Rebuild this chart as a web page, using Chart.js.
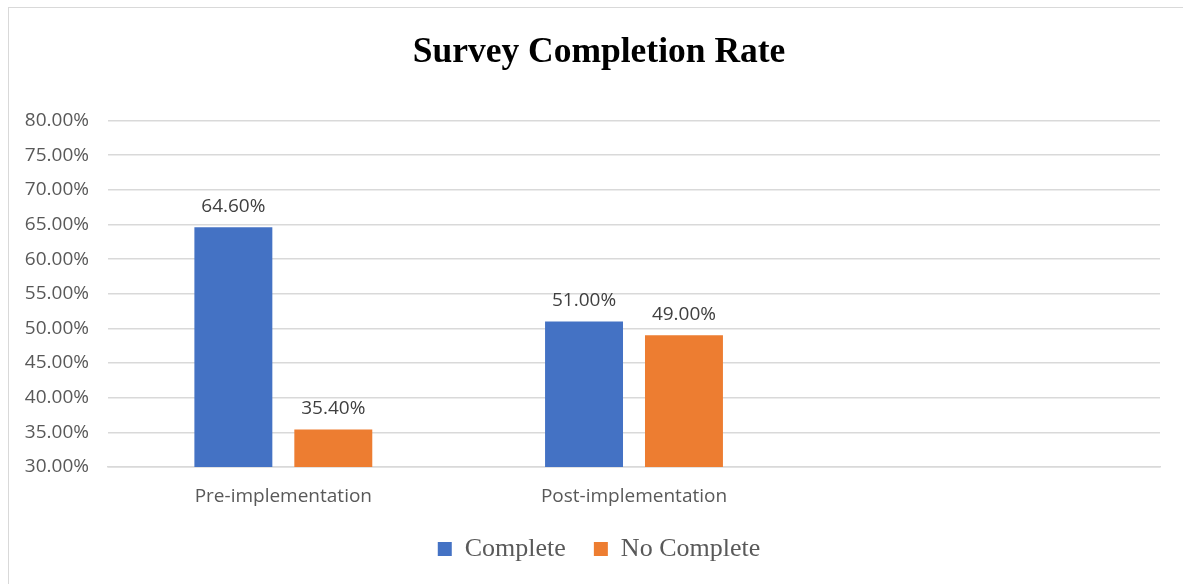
<!DOCTYPE html>
<html>
<head>
<meta charset="utf-8">
<title>Survey Completion Rate</title>
<script src="https://cdn.jsdelivr.net/npm/chart.js@4.4.1/dist/chart.umd.min.js"></script>
<style>
    html, body { margin: 0; padding: 0; background: #fff; overflow: hidden; }
    #frame {
        position: absolute; left: 8px; top: 7px;
        width: 1180px; height: 580px;
        border-left: 1px solid #d9d9d9; border-top: 1px solid #d9d9d9;
    }
    #wrap { position: absolute; left: 0; top: 0; width: 1180px; height: 576px; }
</style>
</head>
<body>
<div id="frame"><div id="wrap"><canvas id="completion-chart"></canvas></div></div>
<script>
// stages (third slot left empty like the source sheet)
var stages = ['Pre-implementation', 'Post-implementation', ''];
var completeRate = [64.6, 51.0, null];
var noCompleteRate = [35.4, 49.0, null];
var yTicks = { min: 30, max: 80, step: 5 };

var labelFont = "'Open Sans', sans-serif";
var serifFont = "'Liberation Serif', 'Times New Roman', serif";

// writes the value over each bar
var valueLabels = {
    id: 'valueLabels',
    afterDatasetsDraw: function (chart) {
        var ctx = chart.ctx;
        ctx.save();
        ctx.font = '19px ' + labelFont;
        ctx.fillStyle = '#404040';
        ctx.textAlign = 'center';
        ctx.textBaseline = 'middle';
        chart.data.datasets.forEach(function (ds, i) {
            chart.getDatasetMeta(i).data.forEach(function (bar, j) {
                if (ds.data[j] == null) return;
                ctx.fillText(ds.data[j].toFixed(2) + '%', bar.x, bar.y - 21);
            });
        });
        ctx.restore();
    }
};

new Chart(document.getElementById('completion-chart'), {
    type: 'bar',
    data: {
        labels: stages,
        datasets: [
            {
                label: 'Complete',
                data: completeRate,
                backgroundColor: '#4472C4'
            },
            {
                label: 'No Complete',
                data: noCompleteRate,
                backgroundColor: '#ED7D31'
            }
        ]
    },
    options: {
        responsive: true,
        maintainAspectRatio: false,
        animation: false,
        layout: { padding: { left: 0, right: 0, top: 0, bottom: 12 } },
        datasets: {
            bar: { categoryPercentage: 0.57, barPercentage: 0.78 }
        },
        plugins: {
            title: {
                display: true,
                text: 'Survey Completion Rate',
                color: '#000',
                font: { family: serifFont, size: 35.5, weight: 'bold' },
                padding: { top: 24, bottom: 46 }
            },
            legend: {
                position: 'bottom',
                labels: {
                    boxWidth: 14,
                    boxHeight: 14,
                    padding: 28,
                    color: '#595959',
                    font: { family: serifFont, size: 26 }
                }
            },
            tooltip: { enabled: false }
        },
        scales: {
            x: {
                afterFit: function (scale) { scale.height = 41; },
                grid: { display: false, drawTicks: false },
                border: { color: '#d9d9d9', width: 1.5 },
                ticks: {
                    color: '#595959',
                    padding: 18,
                    font: { family: labelFont, size: 19 }
                }
            },
            y: {
                min: yTicks.min,
                max: yTicks.max,
                afterFit: function (scale) { scale.width = 99; },
                border: { display: false },
                grid: { color: '#d9d9d9', lineWidth: 1.5, drawTicks: false },
                ticks: {
                    stepSize: yTicks.step,
                    color: '#595959',
                    padding: 19,
                    font: { family: labelFont, size: 19 },
                    callback: function (v) { return v.toFixed(2) + '%'; }
                }
            },
            // empty strip on the right so the plot stops short of the frame
            yRight: {
                position: 'right',
                afterFit: function (scale) { scale.width = 29; },
                grid: { display: false },
                border: { display: false },
                ticks: { display: false }
            }
        }
    },
    plugins: [valueLabels]
});
</script>
</body>
</html>
